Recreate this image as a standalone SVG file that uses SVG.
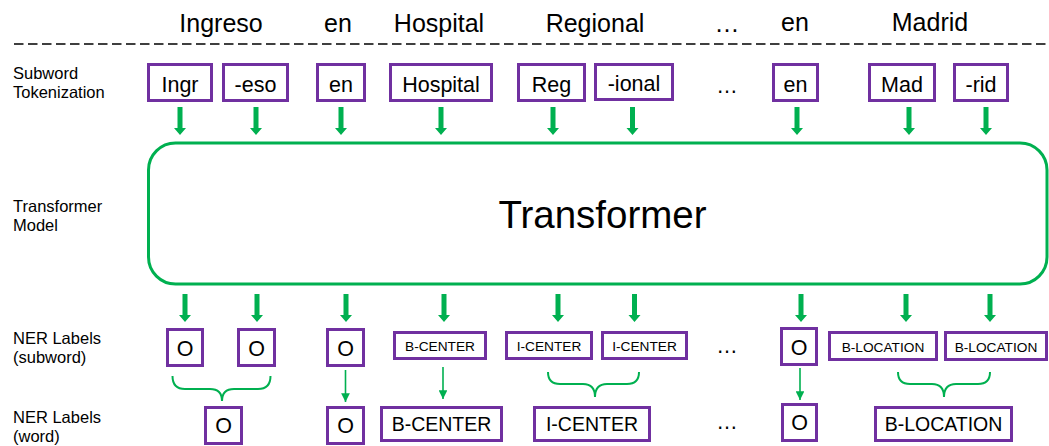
<svg xmlns="http://www.w3.org/2000/svg" xmlns:xlink="http://www.w3.org/1999/xlink" width="1049" height="446" viewBox="0 0 1049 446">
<style>
text{font-family:"Liberation Sans",Arial,sans-serif;fill:#000}
.w{font-size:25px;text-anchor:middle}
.lab{font-size:16.5px}
.tok{font-size:21.5px;text-anchor:middle}
.sm{font-size:13.7px;text-anchor:middle}
.wd{font-size:19.5px;text-anchor:middle}
.box{fill:#fff;stroke:#7030A0;stroke-width:3}
.tr{fill:#fff;stroke:#00B050;stroke-width:3}
.brace{fill:none;stroke:#00B050;stroke-width:2}
.thin{stroke:#00B050;stroke-width:1.6;fill:none}
.ta{fill:#00B050}
</style>
<defs>
<path id="ta" class="ta" d="M-2.5,-28 H2.5 V-7 H6 L0,0 L-6,-7 H-2.5 Z"/>
<marker id="ah" viewBox="0 0 10 10" refX="10" refY="5" markerWidth="5.5" markerHeight="5.5" orient="auto" markerUnits="strokeWidth">
<path d="M0,0 L10,5 L0,10 Z" fill="#00B050"/>
</marker>
</defs>
<rect width="1049" height="446" fill="#fff"/>

<g id="words">
<text class="w" x="221" y="32">Ingreso</text>
<text class="w" x="338" y="31.5">en</text>
<text class="w" x="439" y="32">Hospital</text>
<text class="w" x="595" y="32">Regional</text>
<text class="w" x="727" y="32">…</text>
<text class="w" x="795" y="31">en</text>
<text class="w" x="930" y="31">Madrid</text>
<line x1="14" y1="44" x2="1049" y2="44" stroke="#000" stroke-width="1.3" stroke-dasharray="9.5 4.5"/>
</g>

<g id="row-labels">
<text class="lab" x="13" y="79">Subword</text>
<text class="lab" x="13" y="98">Tokenization</text>
<text class="lab" x="13" y="212">Transformer</text>
<text class="lab" x="13" y="231">Model</text>
<text class="lab" x="13" y="344">NER Labels</text>
<text class="lab" x="13" y="363">(subword)</text>
<text class="lab" x="13" y="423">NER Labels</text>
<text class="lab" x="13" y="442">(word)</text>
</g>

<g id="subword-tokens">
<g id="tok-ingr"><rect class="box" x="148.5" y="64.5" width="63" height="36"/><text class="tok" x="180" y="91.5">Ingr</text></g>
<g id="tok-eso"><rect class="box" x="223.5" y="64.5" width="64" height="36"/><text class="tok" x="255.5" y="91.5">-eso</text></g>
<g id="tok-en1"><rect class="box" x="317.5" y="64.5" width="47" height="36"/><text class="tok" x="341" y="91.5">en</text></g>
<g id="tok-hospital"><rect class="box" x="390.5" y="64.5" width="101" height="36"/><text class="tok" x="441" y="91.5">Hospital</text></g>
<g id="tok-reg"><rect class="box" x="518.5" y="64.5" width="66" height="36"/><text class="tok" x="551.5" y="91.5">Reg</text></g>
<g id="tok-ional"><rect class="box" x="595.5" y="64.5" width="77" height="35"/><text class="tok" x="634" y="90.5">-ional</text></g>
<text class="tok" x="727" y="93">…</text>
<g id="tok-en2"><rect class="box" x="773.5" y="64.5" width="44" height="36"/><text class="tok" x="795.5" y="91.5">en</text></g>
<g id="tok-mad"><rect class="box" x="869.5" y="64.5" width="65" height="36"/><text class="tok" x="902" y="91.5">Mad</text></g>
<g id="tok-rid"><rect class="box" x="954.5" y="64.5" width="53" height="36"/><text class="tok" x="981" y="91.5">-rid</text></g>
</g>

<g id="transformer">
<rect class="tr" x="148.5" y="143" width="898.5" height="141" rx="27" ry="27"/>
<text x="602.5" y="228" font-size="38.5" text-anchor="middle">Transformer</text>
</g>

<g id="ner-subword">
<g id="ns-o1"><rect class="box" x="167.5" y="329.5" width="35" height="36"/><text class="tok" x="185" y="355.5">O</text></g>
<g id="ns-o2"><rect class="box" x="238.5" y="329.5" width="36" height="36"/><text class="tok" x="256.5" y="355.5">O</text></g>
<g id="ns-o3"><rect class="box" x="327.5" y="329.5" width="36" height="36"/><text class="tok" x="345.5" y="355.5">O</text></g>
<g id="ns-bcenter"><rect class="box" x="394.5" y="332.5" width="91" height="26"/><text class="sm" x="440" y="351">B-CENTER</text></g>
<g id="ns-icenter1"><rect class="box" x="506.5" y="332.5" width="85" height="26"/><text class="sm" x="549" y="351">I-CENTER</text></g>
<g id="ns-icenter2"><rect class="box" x="602.5" y="332.5" width="84" height="26"/><text class="sm" x="644.5" y="351">I-CENTER</text></g>
<text class="tok" x="727" y="353">…</text>
<g id="ns-o4"><rect class="box" x="781.5" y="328.5" width="35" height="36"/><text class="tok" x="799" y="354.5">O</text></g>
<g id="ns-bloc1"><rect class="box" x="829.5" y="332.5" width="107" height="27"/><text class="sm" x="883" y="351.5">B-LOCATION</text></g>
<g id="ns-bloc2"><rect class="box" x="945.5" y="332.5" width="101" height="27"/><text class="sm" x="996" y="351.5">B-LOCATION</text></g>
</g>

<g id="ner-word">
<g id="nw-o1"><rect class="box" x="205.5" y="407.5" width="36" height="36"/><text class="tok" x="223.5" y="433">O</text></g>
<g id="nw-o2"><rect class="box" x="327.5" y="407.5" width="36" height="36"/><text class="tok" x="345.5" y="433">O</text></g>
<g id="nw-bcenter"><rect class="box" x="381.5" y="407.5" width="120" height="33"/><text class="wd" x="441.5" y="431">B-CENTER</text></g>
<g id="nw-icenter"><rect class="box" x="534.5" y="407.5" width="115" height="33"/><text class="wd" x="592" y="431">I-CENTER</text></g>
<text class="tok" x="727" y="429">…</text>
<g id="nw-o3"><rect class="box" x="782.5" y="404.5" width="34" height="36"/><text class="tok" x="799.5" y="430">O</text></g>
<g id="nw-bloc"><rect class="box" x="875.5" y="407.5" width="136" height="33"/><text class="wd" x="943.5" y="431">B-LOCATION</text></g>
</g>

<g id="connectors">
<use xlink:href="#ta" x="180" y="135"/>
<use xlink:href="#ta" x="256" y="135"/>
<use xlink:href="#ta" x="341" y="135"/>
<use xlink:href="#ta" x="441" y="135"/>
<use xlink:href="#ta" x="553" y="135"/>
<use xlink:href="#ta" x="632.5" y="135"/>
<use xlink:href="#ta" x="797" y="135"/>
<use xlink:href="#ta" x="909" y="135"/>
<use xlink:href="#ta" x="986" y="135"/>

<use xlink:href="#ta" x="185" y="322"/>
<use xlink:href="#ta" x="257" y="322"/>
<use xlink:href="#ta" x="346" y="322"/>
<use xlink:href="#ta" x="444" y="322"/>
<use xlink:href="#ta" x="558" y="322"/>
<use xlink:href="#ta" x="634.5" y="322"/>
<use xlink:href="#ta" x="801" y="322"/>
<use xlink:href="#ta" x="906" y="322"/>
<use xlink:href="#ta" x="990" y="322"/>

<path class="brace" d="M172.5,376 Q172.5,389 185,389 L210,389 Q222,389 222,401 Q222,389 234,389 L258,389 Q270.5,389 270.5,376"/>
<path class="brace" d="M548,372 Q548,384 560,384 L583,384 Q595,384 595,397 Q595,384 607,384 L627,384 Q639,384 639,372"/>
<path class="brace" d="M898,372 Q898,384 910,384 L932,384 Q944,384 944,397 Q944,384 956,384 L978,384 Q990,384 990,372"/>

<line class="thin" x1="345.5" y1="370" x2="345.5" y2="402" marker-end="url(#ah)"/>
<line class="thin" x1="443" y1="367" x2="443" y2="399" marker-end="url(#ah)"/>
<line class="thin" x1="800" y1="368" x2="800" y2="400" marker-end="url(#ah)"/>
</g>
</svg>
